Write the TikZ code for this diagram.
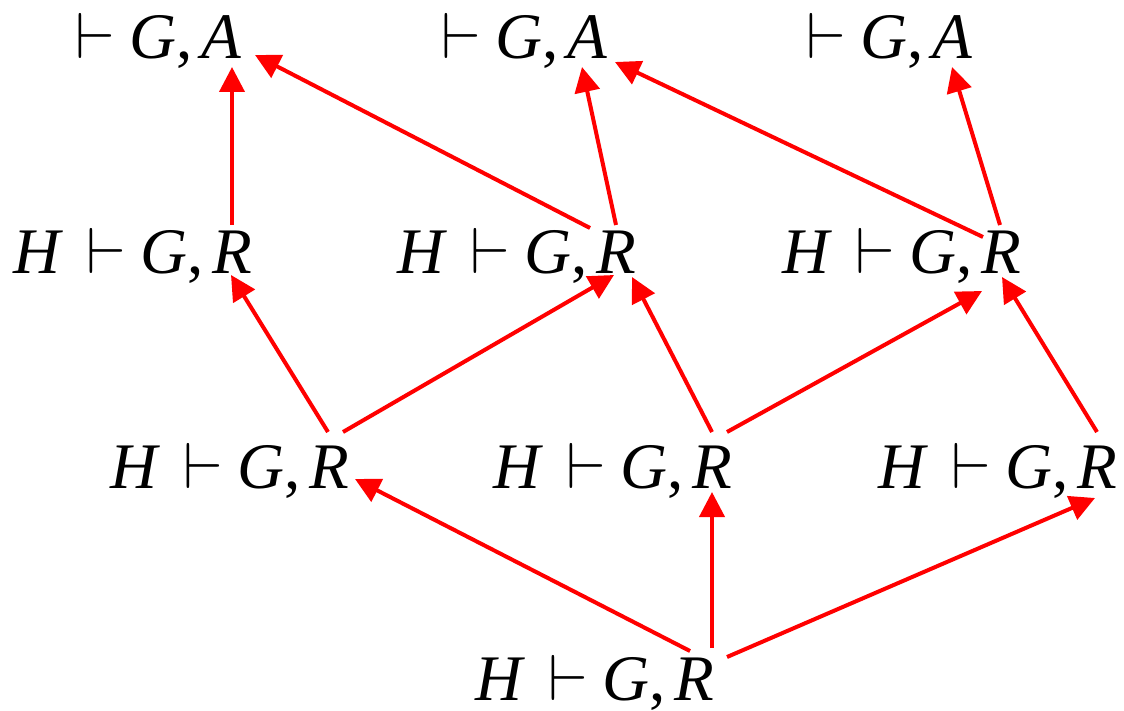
\RequirePackage{fix-cm}
\documentclass[tikz,border=0pt]{standalone}
\usepackage{fontspec}
\setmainfont{LiberationSerif}[Extension=.ttf, UprightFont=*-Regular, ItalicFont=*-Italic]
\usetikzlibrary{calc, arrows.meta}

\newcommand{\seqR}{\textit{H}\hspace{0.36em}$\vdash$\hspace{0.22em}\textit{G},\hspace{0.14em}\textit{R}}
\newcommand{\seqA}{$\vdash$\hspace{0.22em}\textit{G},\hspace{0.14em}\textit{A}}

\begin{document}
\begin{tikzpicture}[x=0.02cm, y=-0.02cm,
    seq/.style={inner sep=0pt, anchor=base east, font=\fontsize{37}{40}\selectfont},
    arr/.style={red, line width=0.08cm, -{Triangle[length=0.5cm, width=0.5cm]}}]
    \useasboundingbox (0,0) rectangle (1124,710);

    % top row
    \node[seq] (n11) at (242,58) {\seqA};
    \node[seq] (n12) at (608,58) {\seqA};
    \node[seq] (n13) at (973,58) {\seqA};
    % second row
    \node[seq] (n21) at (253,273) {\seqR};
    \node[seq] (n22) at (637,273) {\seqR};
    \node[seq] (n23) at (1022,273) {\seqR};
    % third row
    \node[seq] (n31) at (350,488) {\seqR};
    \node[seq] (n32) at (733,488) {\seqR};
    \node[seq] (n33) at (1118,488) {\seqR};
    % bottom
    \node[seq] (n4) at (715,700) {\seqR};

    \draw[arr] ($(n21.base east)+(-21,-48)$) -- ($(n11.base east)+(-10,9)$);
    \draw[arr] ($(n22.base east)+(-47,-45)$) -- ($(n11.base east)+(13,-3)$);
    \draw[arr] ($(n22.base east)+(-21,-48)$) -- ($(n12.base east)+(-26,9)$);
    \draw[arr] ($(n23.base east)+(-39,-36)$) -- ($(n12.base east)+(7,4)$);
    \draw[arr] ($(n23.base east)+(-22,-48)$) -- ($(n13.base east)+(-21,9)$);

    \draw[arr] ($(n31.base east)+(-22,-56)$) -- ($(n21.base east)+(-22,2)$);
    \draw[arr] ($(n31.base east)+(-7,-56)$) -- ($(n22.base east)+(-23,2)$);
    \draw[arr] ($(n32.base east)+(-21,-56)$) -- ($(n22.base east)+(-5,4)$);
    \draw[arr] ($(n32.base east)+(-6,-56)$) -- ($(n23.base east)+(-40,18)$);
    \draw[arr] ($(n33.base east)+(-21,-56)$) -- ($(n23.base east)+(-20,4)$);

    \draw[arr] ($(n4.base east)+(-25,-49)$) -- ($(n31.base east)+(5,-9)$);
    \draw[arr] ($(n4.base east)+(-3,-52)$) -- ($(n32.base east)+(-21,4)$);
    \draw[arr] ($(n4.base east)+(12,-43)$) -- ($(n33.base east)+(-23,10)$);
\end{tikzpicture}
\end{document}
